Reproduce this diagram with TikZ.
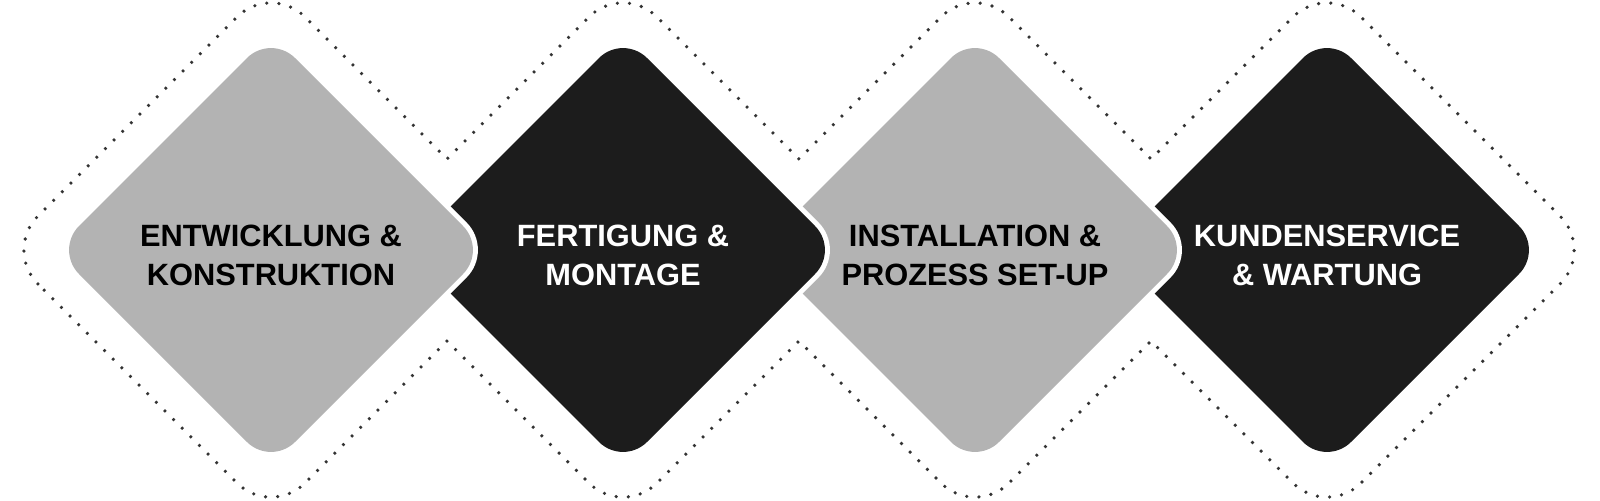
\documentclass[tikz,border=0pt]{standalone}
\usepackage{fontspec}
\setmainfont{Liberation Sans}
\definecolor{boxgray}{HTML}{B3B3B3}
\definecolor{boxdark}{HTML}{1C1C1C}
\definecolor{dotgray}{HTML}{333333}
\def\cA{271}\def\cB{623}\def\cC{975}\def\cD{1327}
\def\dh{267}\def\dk{33.94}\def\vv{91}
\newcommand\rdia[1]{(#1-216,250) -- (#1,466) -- (#1+216,250) -- (#1,34) -- cycle}
\begin{document}
\begin{tikzpicture}[x=0.5pt,y=0.5pt,
  lbl/.style={anchor=base, font=\bfseries\fontsize{15.4pt}{19pt}\selectfont, inner sep=0pt},
  dots/.style={draw=dotgray, line width=1.8pt, line cap=round, dash pattern=on 0pt off 6.1pt},
  halo/.style={draw=white, line width=5pt, rounded corners=17pt},
  shp/.style={rounded corners=17pt},
]
\useasboundingbox[fill=white] (0,0) rectangle (1600,500);
% dotted outline (union of the four enlarged diamonds)
\draw[dots]
  ({\cA-\dh+\dk},{250-\dk}) arc[start angle=225, end angle=135, radius=24pt]
  -- ({\cA-\dk},{250+\dh-\dk}) arc[start angle=135, end angle=45, radius=24pt]
  -- ({\cA+176},{250+\vv})
  -- ({\cB-\dk},{250+\dh-\dk}) arc[start angle=135, end angle=45, radius=24pt]
  -- ({\cB+176},{250+\vv})
  -- ({\cC-\dk},{250+\dh-\dk}) arc[start angle=135, end angle=45, radius=24pt]
  -- ({\cC+176},{250+\vv})
  -- ({\cD-\dk},{250+\dh-\dk}) arc[start angle=135, end angle=45, radius=24pt]
  -- ({\cD+\dh-\dk},{250+\dk}) arc[start angle=45, end angle=-45, radius=24pt]
  -- ({\cD+\dk},{250-\dh+\dk}) arc[start angle=-45, end angle=-135, radius=24pt]
  -- ({\cC+176},{250-\vv})
  -- ({\cC+\dk},{250-\dh+\dk}) arc[start angle=-45, end angle=-135, radius=24pt]
  -- ({\cB+176},{250-\vv})
  -- ({\cB+\dk},{250-\dh+\dk}) arc[start angle=-45, end angle=-135, radius=24pt]
  -- ({\cA+176},{250-\vv})
  -- ({\cA+\dk},{250-\dh+\dk}) arc[start angle=-45, end angle=-135, radius=24pt]
  -- cycle;
% diamonds, right to left, each with a white halo
\path[halo] \rdia{\cD};
\path[shp, fill=boxdark] \rdia{\cD};
\path[halo] \rdia{\cC};
\path[shp, fill=boxgray] \rdia{\cC};
\path[halo] \rdia{\cB};
\path[shp, fill=boxdark] \rdia{\cB};
\path[halo] \rdia{\cA};
\path[shp, fill=boxgray] \rdia{\cA};
% labels
\node[lbl, text=black] (t1a) at (\cA,254) {ENTWICKLUNG \&};
\node[lbl, text=black] (t1b) at (\cA,215) {KONSTRUKTION};
\node[lbl, text=white] (t2a) at (\cB,254) {FERTIGUNG \&};
\node[lbl, text=white] (t2b) at (\cB,215) {MONTAGE};
\node[lbl, text=black] (t3a) at (\cC,254) {INSTALLATION \&};
\node[lbl, text=black] (t3b) at (\cC,215) {PROZESS SET-UP};
\node[lbl, text=white] (t4a) at (\cD,254) {KUNDENSERVICE};
\node[lbl, text=white] (t4b) at (\cD,215) {\& WARTUNG};
\end{tikzpicture}
\end{document}
